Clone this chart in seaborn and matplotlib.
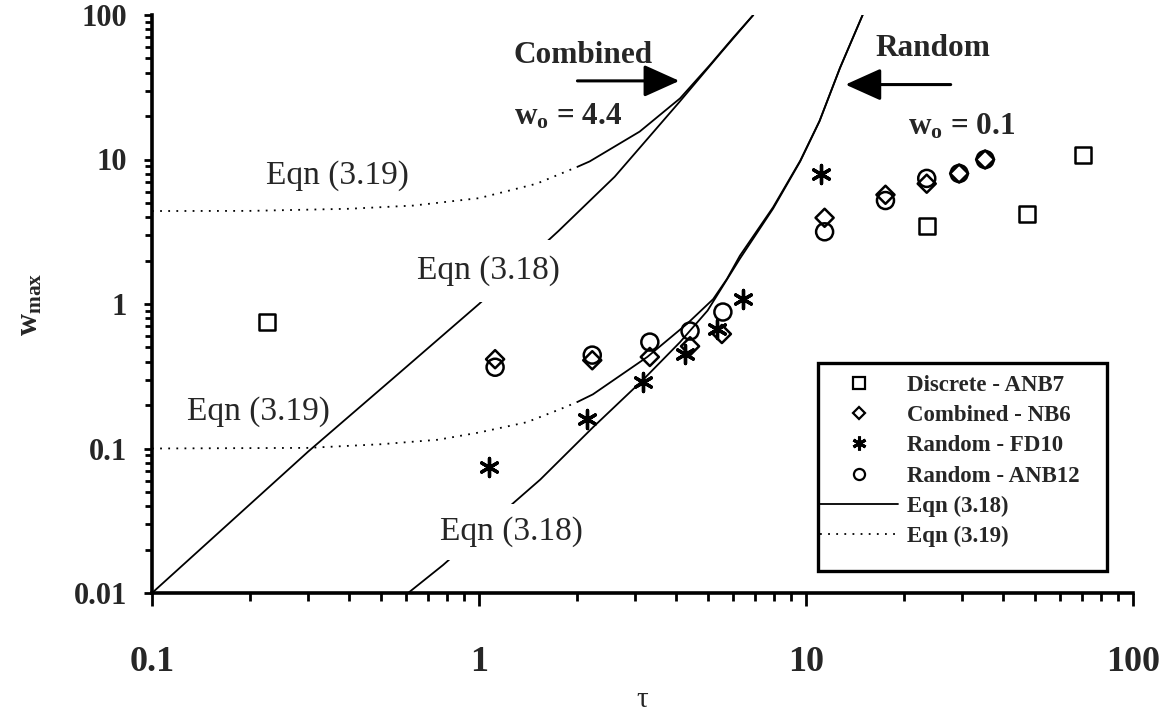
import numpy as np
import pandas as pd
import matplotlib
matplotlib.use("Agg")
import matplotlib.pyplot as plt
from matplotlib.lines import Line2D
from matplotlib.patches import Rectangle
from matplotlib.ticker import FixedLocator, FixedFormatter, LogLocator, NullFormatter
import seaborn as sns

# ---- measured maximum deflections ----
disc_tau = [0.225, 23.4, 47.4, 70.3]
disc_w = [0.75, 3.48, 4.2, 10.7]

comb_tau = [1.12, 2.22, 3.33, 4.42, 5.53, 11.4, 17.5, 23.4, 29.4, 35.3]
comb_w = [0.415, 0.408, 0.43, 0.51, 0.62, 3.95, 5.7, 6.8, 8.0, 10.0]

fd10_tau = [1.07, 2.14, 3.18, 4.27, 5.35, 6.41, 11.1]
fd10_w = [0.075, 0.159, 0.287, 0.45, 0.67, 1.08, 7.9]

anb12_tau = [1.12, 2.22, 3.33, 4.42, 5.57, 11.4, 17.5, 23.4, 29.4, 35.3]
anb12_w = [0.365, 0.443, 0.545, 0.65, 0.88, 3.16, 5.2, 7.4, 8.0, 10.0]

# ---- Eqn (3.18): no initial imperfection ----
e18_comb_tau = [0.1, 0.3, 0.55, 1.0, 1.75, 2.6, 4.1, 5.5, 6.9]
e18_comb_w = [0.01, 0.095, 0.31, 1.0, 3.2, 7.6, 25.0, 55.0, 100.0]

e18_rand_tau = [0.607, 0.776, 1.29, 1.54, 2.23, 3.18, 4.12, 5.0, 6.28, 7.93, 9.6, 11.0, 12.7, 14.9]
e18_rand_w = [0.01, 0.0156, 0.043, 0.061, 0.14, 0.30, 0.545, 0.9, 2.06, 4.57, 9.7, 18.4, 42.9, 100.0]

# ---- Eqn (3.19): initial imperfection w_o ----
e19_comb_tau = [0.1, 0.2, 0.4, 0.63, 1.0, 1.5, 2.0, 2.18, 3.1, 4.12, 5.08, 6.0, 6.9]
e19_comb_w = [4.4, 4.41, 4.56, 4.8, 5.4, 6.8, 8.9, 9.7, 15.6, 26.5, 45.0, 70.0, 100.0]

e19_rand_tau = [0.1, 0.3, 0.5, 0.75, 1.0, 1.4, 1.77, 2.0, 2.23, 3.27, 4.33, 5.2, 5.73, 6.28, 7.93, 9.6, 11.0, 12.7, 14.9]
e19_rand_w = [0.1, 0.101, 0.107, 0.115, 0.129, 0.152, 0.187, 0.21, 0.237, 0.43, 0.73, 1.08, 1.49, 2.16, 4.67, 9.8, 18.5, 43.0, 100.0]

x_ticks = [0.1, 1, 10, 100]
x_tick_labels = ["0.1", "1", "10", "100"]
y_ticks = [0.01, 0.1, 1, 10, 100]
y_tick_labels = ["0.01", "0.1", "1", "10", "100"]

legend_labels = ["Discrete - ANB7", "Combined - NB6", "Random - FD10",
                 "Random - ANB12", "Eqn (3.18)", "Eqn (3.19)"]

sns.set_theme(style="ticks")
plt.rcParams["font.family"] = ["Liberation Serif", "DejaVu Serif"]
plt.rcParams["mathtext.fontset"] = "custom"
plt.rcParams["mathtext.rm"] = "Liberation Serif"
plt.rcParams["mathtext.bf"] = "Liberation Serif:bold"
plt.rcParams["mathtext.it"] = "Liberation Serif:italic"

W, H = 1172, 722
fig = plt.figure(figsize=(W / 100, H / 100), dpi=100)
ax = fig.add_axes([152 / W, 1 - 593 / H, (1133 - 152) / W, (593 - 15) / H])
ax.set_xscale("log")
ax.set_yscale("log")

LW = 1.3
dotted = (0, (1.0, 3.5))


def curve(tau, w, ls="-"):
    df = pd.DataFrame({"tau": tau, "w": w})
    sns.lineplot(data=df, x="tau", y="w", sort=False, estimator=None,
                 color="black", lw=LW, linestyle=ls, ax=ax, zorder=2)


def split_curve(tau, w, t_split):
    tau = np.asarray(tau)
    w = np.asarray(w)
    lo = tau <= t_split
    hi = tau >= t_split
    curve(tau[lo], w[lo], dotted)
    curve(tau[hi], w[hi], "-")


curve(e18_comb_tau, e18_comb_w)
curve(e18_rand_tau, e18_rand_w)
split_curve(e19_comb_tau, e19_comb_w, 2.0)
split_curve(e19_rand_tau, e19_rand_w, 2.0)

mk = dict(ax=ax, zorder=4, legend=False)
sns.scatterplot(x=disc_tau, y=disc_w, marker="s", s=130, facecolor="white",
                edgecolor="black", linewidth=1.8, **mk)
sns.scatterplot(x=comb_tau, y=comb_w, marker="D", s=85, facecolor="none",
                edgecolor="black", linewidth=1.8, **mk)
sns.scatterplot(x=anb12_tau, y=anb12_w, marker="o", s=150, facecolor="none",
                edgecolor="black", linewidth=1.8, **mk)
sns.scatterplot(x=fd10_tau, y=fd10_w, marker=(6, 2, 0), s=170, color="black",
                edgecolor="black", linewidth=2.4, **mk)

ax.set_xlim(0.1, 100)
ax.set_ylim(0.01, 100)

ax.xaxis.set_major_locator(FixedLocator(x_ticks))
ax.xaxis.set_major_formatter(FixedFormatter(x_tick_labels))
ax.yaxis.set_major_locator(FixedLocator(y_ticks))
ax.yaxis.set_major_formatter(FixedFormatter(y_tick_labels))
ax.xaxis.set_minor_locator(LogLocator(base=10, subs=np.arange(2, 10)))
ax.yaxis.set_minor_locator(LogLocator(base=10, subs=np.arange(2, 10)))
ax.xaxis.set_minor_formatter(NullFormatter())
ax.yaxis.set_minor_formatter(NullFormatter())

sns.despine(ax=ax)
for side in ("left", "bottom"):
    ax.spines[side].set_linewidth(2.6)
    ax.spines[side].set_color("black")

ax.tick_params(axis="x", which="major", direction="out", length=9, width=2,
               color="black", pad=29, labelsize=26)
ax.tick_params(axis="x", which="minor", direction="out", length=6, width=2, color="black")
ax.tick_params(axis="y", which="major", direction="out", length=6, width=2,
               color="black", pad=12, labelsize=22)
ax.tick_params(axis="y", which="minor", direction="out", length=5, width=2, color="black")
for lab in ax.get_xticklabels() + ax.get_yticklabels():
    lab.set_fontweight("bold")

ax.set_xlabel("τ", fontsize=21, labelpad=6)
ax.set_ylabel(r"$\mathbf{w_{max}}$", fontsize=22, labelpad=21)

# curve annotations
eqn_kw = dict(fontsize=24, ha="center", va="center", zorder=6)
ax.text(0.37, 7.7, "Eqn (3.19)", **eqn_kw)
ax.text(1.07, 1.69, "Eqn (3.18)",
        bbox=dict(facecolor="white", edgecolor="none", pad=11), **eqn_kw)
ax.text(0.211, 0.181, "Eqn (3.19)", **eqn_kw)
ax.text(1.26, 0.0266, "Eqn (3.18)",
        bbox=dict(facecolor="white", edgecolor="none", pad=9), **eqn_kw)

lab_kw = dict(fontsize=22.5, fontweight="bold", ha="center", va="baseline", zorder=6)
ax.text(2.08, 46.4, "Combined", **lab_kw)
ax.text(1.88, 17.5, r"$\mathbf{w_o}$ = 4.4", **lab_kw)
ax.text(24.4, 52.0, "Random", **lab_kw)
ax.text(30.0, 15.0, r"$\mathbf{w_o}$ = 0.1", **lab_kw)

arrow = dict(arrowstyle="-|>,head_length=1.0,head_width=0.45", lw=2.2,
             color="black", shrinkA=0, shrinkB=0, mutation_scale=22)
ax.annotate("", xy=(4.1, 35), xytext=(2.0, 35), arrowprops=arrow)
ax.annotate("", xy=(13.2, 33), xytext=(27.7, 33), arrowprops=arrow)

# legend with a square black frame
handles = [
    Line2D([], [], ls="none", marker="s", ms=8, mfc="white", mec="black", mew=1.6),
    Line2D([], [], ls="none", marker="D", ms=6.5, mfc="white", mec="black", mew=1.6),
    Line2D([], [], ls="none", marker=(6, 2, 0), ms=10, color="black", mew=2.2),
    Line2D([], [], ls="none", marker="o", ms=8, mfc="white", mec="black", mew=1.6),
    Line2D([], [], ls="-", color="black", lw=1.3),
    Line2D([], [], ls=dotted, color="black", lw=1.3),
]
frame = Rectangle((818 / W, 1 - 571 / H), (1107 - 818) / W, (571 - 363) / H,
                  transform=fig.transFigure, facecolor="white", edgecolor="black",
                  linewidth=2.4, zorder=6)
ax.add_artist(frame)
frame.set_clip_on(False)
leg = ax.legend(handles, legend_labels, loc="upper left",
                bbox_to_anchor=(820 / W, 1 - 375 / H), bbox_transform=fig.transFigure,
                prop={"family": "Liberation Serif", "weight": "bold", "size": 16.5},
                frameon=False, handlelength=3.4, handletextpad=0.4,
                labelspacing=0.40, borderpad=0, borderaxespad=0)
leg.set_zorder(7)

fig.savefig("out.png", dpi=100, facecolor="white")
